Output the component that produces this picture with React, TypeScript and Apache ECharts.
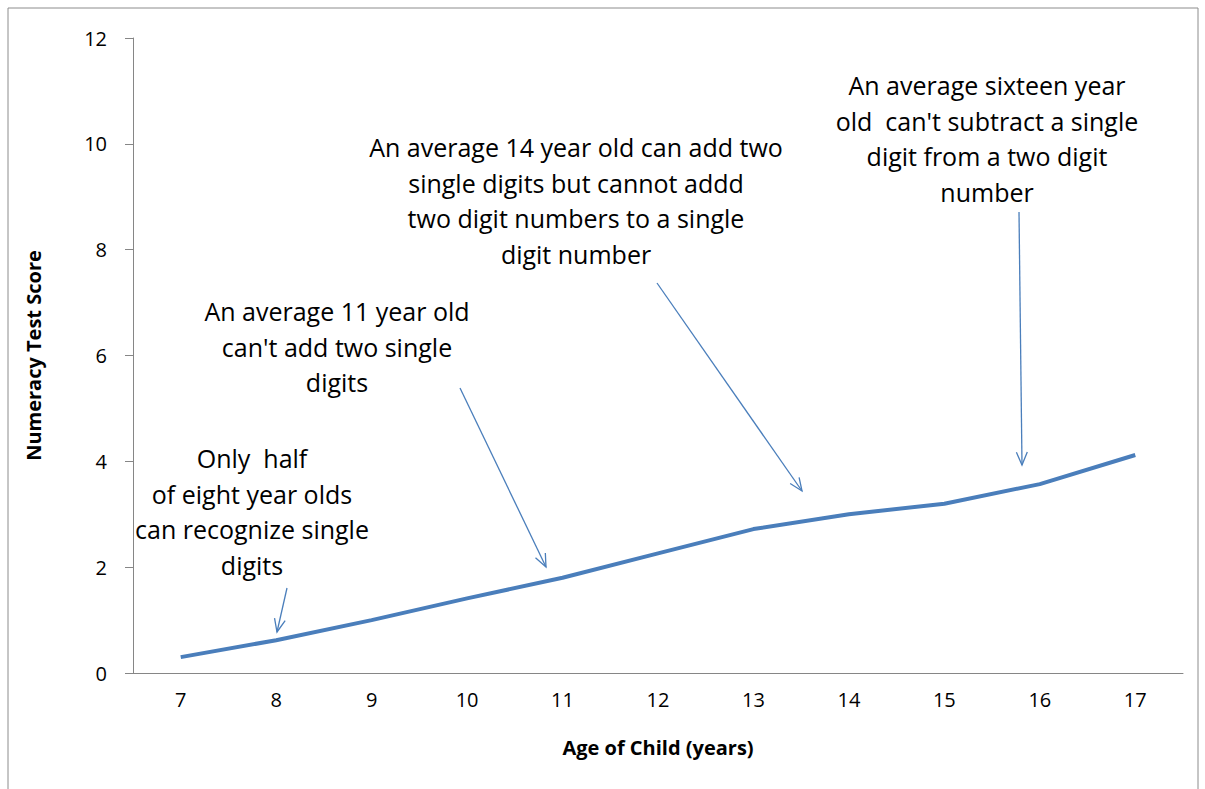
import { useEffect, useRef } from 'react';
import * as echarts from 'echarts';

const ages = ['7', '8', '9', '10', '11', '12', '13', '14', '15', '16', '17'];
const scores = [0.3, 0.62, 1.0, 1.41, 1.8, 2.26, 2.72, 3.0, 3.2, 3.57, 4.12];

// annotation texts: [centerX, firstLineY, lines]
const notes: [number, number, string[]][] = [
  [252, 458, ['Only  half', 'of eight year olds', 'can recognize single', 'digits']],
  [337, 311, ['An average 11 year old', "can't add two single", 'digits']],
  [576, 147, ['An average 14 year old can add two', 'single digits but cannot addd', 'two digit numbers to a single', 'digit number']],
  [987, 85, ['An average sixteen year', "old  can't subtract a single", 'digit from a two digit', 'number']],
];
const arrows = [
  [287, 588, 277, 632],
  [460, 388, 546, 567],
  [657, 283, 802, 491],
  [1019, 212, 1022, 465],
];

const ARROW = '#4a7ebb';
const AXIS = '#868686';
const FONT = '"Open Sans", sans-serif';

function buildGraphic(): any[] {
  const g: any[] = [
    { type: 'rect', shape: { x: 8, y: 8, width: 1190, height: 800 }, style: { fill: 'none', stroke: '#8c8c8c', lineWidth: 1 } },
  ];
  notes.forEach(([cx, y0, lines]) => {
    lines.forEach((t, i) => {
      g.push({
        type: 'text', x: cx, y: y0 + i * 35.5,
        style: { text: t, fill: '#000', font: `25px ${FONT}`, textAlign: 'center', textVerticalAlign: 'middle' },
      });
    });
  });
  arrows.forEach(([x1, y1, x2, y2]) => {
    g.push({ type: 'line', shape: { x1, y1, x2, y2 }, style: { stroke: ARROW, lineWidth: 1.3 } });
    const a = Math.atan2(y2 - y1, x2 - x1);
    const L = 14, s = 0.4;
    g.push({
      type: 'polyline',
      shape: { points: [
        [x2 - L * Math.cos(a - s), y2 - L * Math.sin(a - s)],
        [x2, y2],
        [x2 - L * Math.cos(a + s), y2 - L * Math.sin(a + s)],
      ] },
      style: { stroke: ARROW, lineWidth: 1.3, fill: 'none' },
    });
  });
  return g;
}

export default function App() {
  const ref = useRef<HTMLDivElement>(null);

  useEffect(() => {
    if (!ref.current) return;
    const chart = echarts.init(ref.current, null, { renderer: 'svg' });
    chart.setOption({
      animation: false,
      backgroundColor: '#fff',
      grid: { left: 133, top: 38, right: 22, bottom: 116 },
      xAxis: {
        type: 'category',
        data: ages,
        name: 'Age of Child (years)',
        nameLocation: 'middle',
        nameGap: 64,
        nameTextStyle: { fontSize: 20, fontWeight: 'bold', color: '#000', fontFamily: FONT },
        axisLine: { lineStyle: { color: AXIS } },
        axisTick: { length: 8, lineStyle: { color: AXIS } },
        axisLabel: { fontSize: 20, color: '#000', margin: 16, fontFamily: FONT },
      },
      yAxis: {
        type: 'value',
        min: 0,
        max: 12,
        interval: 2,
        name: 'Numeracy Test Score',
        nameLocation: 'middle',
        nameGap: 90,
        nameTextStyle: { fontSize: 20, fontWeight: 'bold', color: '#000', fontFamily: FONT },
        axisLine: { show: true, lineStyle: { color: AXIS } },
        axisTick: { show: true, length: 8, lineStyle: { color: AXIS } },
        axisLabel: { fontSize: 20, color: '#000', margin: 26, fontFamily: FONT },
        splitLine: { show: false },
      },
      series: [{
        type: 'line',
        data: scores,
        symbol: 'none',
        lineStyle: { color: '#4a7ebb', width: 4 },
      }],
      graphic: buildGraphic(),
    });
    return () => chart.dispose();
  }, []);

  return <div ref={ref} style={{ position: 'absolute', left: 0, top: 0, width: 1205, height: 789 }} />;
}
